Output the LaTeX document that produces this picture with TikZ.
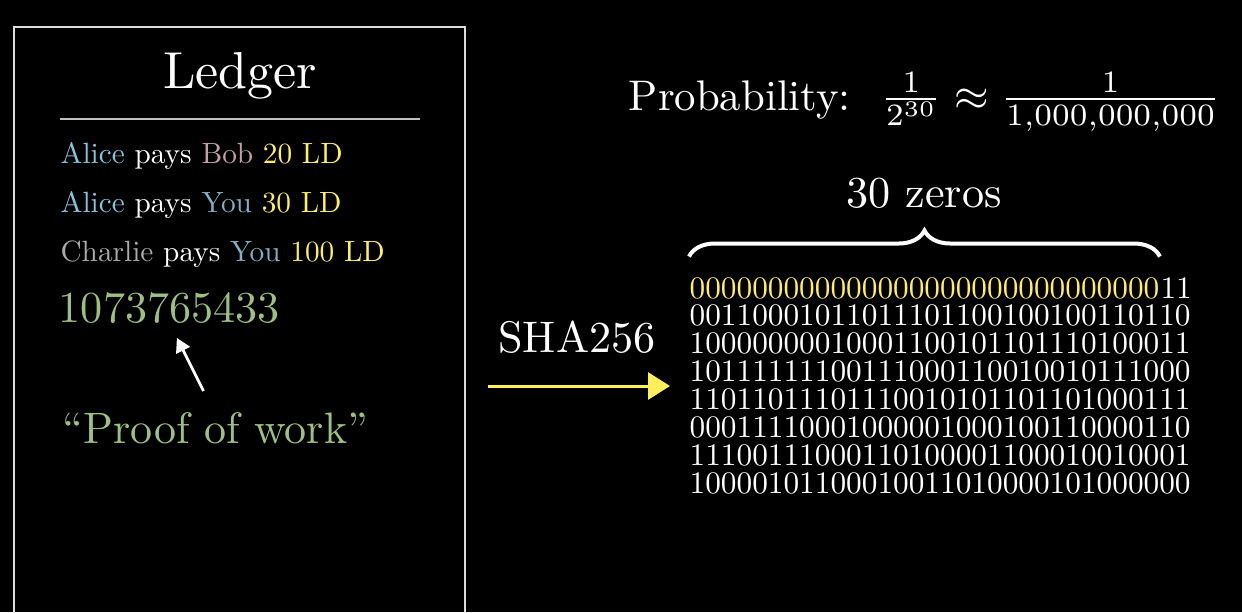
\documentclass[tikz,border=0pt]{standalone}
\usepackage{amsmath}
\usetikzlibrary{arrows.meta, positioning, decorations.pathreplacing}
\definecolor{alicec}{HTML}{86C3DB}
\definecolor{bobc}{HTML}{C3A0A8}
\definecolor{youc}{HTML}{82AFC4}
\definecolor{charliec}{HTML}{AAAAAA}
\definecolor{coin}{HTML}{FFF05A}
\definecolor{nonce}{HTML}{9DBF7F}
\definecolor{framec}{HTML}{DDDDDD}
\definecolor{rulec}{HTML}{BFBFBF}
\tikzset{
  txt/.style     = {text=white, font=\fontsize{10}{12}\selectfont, transform shape,
                    inner sep=0pt, anchor=base west},
  ttl/.style     = {txt, scale=2.6, anchor=base},
  entry/.style   = {txt, scale=1.465},
  big/.style     = {txt, scale=#1},
  big/.default   = 2.18,
  bits/.style    = {txt, scale=1.5656},
  flow/.style    = {-{Triangle[length=11pt, width=13.5pt]}, line width=1.5pt, draw=coin},
  pointer/.style = {-{Triangle[length=7pt, width=7.5pt]}, line width=1.4pt, draw=white},
  brace/.style   = {decorate, decoration={brace, amplitude=13pt}, line width=2pt, draw=white},
}
\begin{document}
\begin{tikzpicture}[x=0.5pt, y=-0.5pt]
    \fill[black] (0,0) rectangle (1242,612);
    \useasboundingbox (0,0) rectangle (1242,612);
    % Ledger panel
    \draw[framec, line width=1.2pt] (14,612) -- (14,27) -- (465,27) -- (465,612);
    \node[ttl] (ledger) at (240,88) {Ledger};
    \draw[rulec, line width=1pt] (60,119) -- (420,119);
    \node[entry] (tx1) at (60,163)
        {\textcolor{alicec}{Alice} pays \textcolor{bobc}{Bob} \textcolor{coin}{20 LD}};
    \node[entry] (tx2) at (60,212)
        {\textcolor{alicec}{Alice} pays \textcolor{youc}{You} \textcolor{coin}{30 LD}};
    \node[entry] (tx3) at (60,261)
        {\textcolor{charliec}{Charlie} pays \textcolor{youc}{You} \textcolor{coin}{100 LD}};
    \node[big=2.21, text=nonce] (nonce) at (58,322) {1073765433};
    \node[big=2.2, text=nonce] (proof) at (62,443) {“Proof of work”};
    \draw[pointer] ([shift={(-6pt,10pt)}]proof.north) -- ([shift={(3.75pt,-7pt)}]nonce.south);

    % hash
    \node[big=2.21, anchor=base] (sha) at (577,352) {SHA256};
    \coordinate (hin)  at (488,386);
    \coordinate (hout) at (670,386);
    \draw[flow] (hin) -- (hout);

    % digest bits
    \node[bits, text=coin] (zeros) at (689,298) {000000000000000000000000000000};
    \node[bits, right=0pt of zeros.base east, anchor=base west] (ones) {11};
    \foreach \row [count=\i from 2] in {00110001011011101100100100110110,
        10000000010001100101101110100011, 10111111100111000110010010111000,
        11011011101110010101101101000111, 00011110001000001000100110000110,
        11100111000110100001100010010001, 10000101100010011010000101000000}
      \node[bits] (r\i) at (689, {298+27.9*(\i-1)}) {\row};
    \draw[brace] ([yshift=10pt]zeros.north west) -- ([yshift=10pt]zeros.north east);
    \node[big=2.21, anchor=base] (zlbl) at (924,207) {30 zeros};

    % odds
    \node[big=2.14] (prob) at (628,110) {Probability:};
    \node[big=2.22] (odds) at (880,110)
        {$\frac{1}{2^{30}} \approx \frac{1}{1{,}000{,}000{,}000}$};
\end{tikzpicture}
\end{document}
